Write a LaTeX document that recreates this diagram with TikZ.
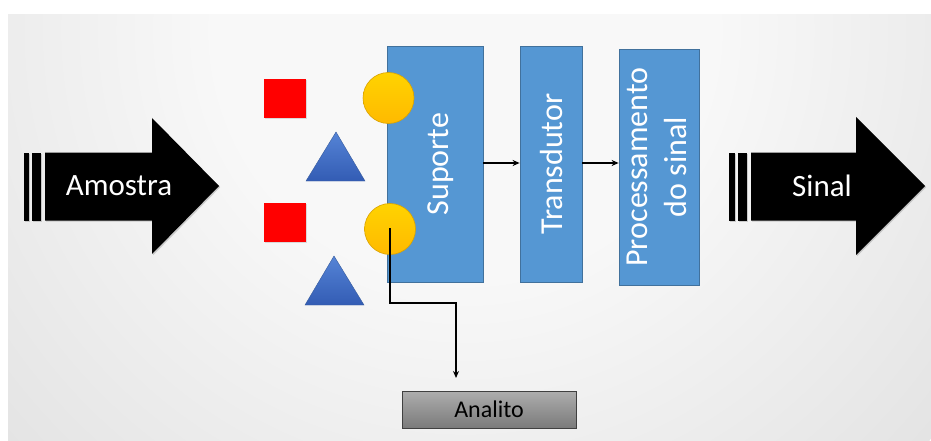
\documentclass[tikz,border=0pt]{standalone}
\usepackage{fontspec}
\usepackage{graphicx}
\setmainfont{Carlito}
\usetikzlibrary{arrows.meta,shadows}

\definecolor{bgcenter}{HTML}{F8F8F8}
\definecolor{bgedge}{HTML}{C2C2C2}
\definecolor{blockblue}{HTML}{5597D3}
\definecolor{blockedge}{HTML}{41719C}
\definecolor{gold}{HTML}{FFC000}
\definecolor{goldedge}{HTML}{D9A200}
\definecolor{triblue}{HTML}{4472C4}
\definecolor{trilight}{HTML}{5584D6}
\definecolor{trideep}{HTML}{335CB4}

\pgfdeclareradialshading{bgglow}{\pgfpoint{0bp}{0bp}}{%
  color(0bp)=(bgcenter); color(10bp)=(bgcenter); color(50bp)=(bgedge)}

\tikzset{
  bigarrow/.style={fill=black, drop shadow={shadow xshift=1.2pt, shadow yshift=-1.2pt, opacity=0.35}},
  arrowtext/.style={text=white, font=\fontsize{31}{38}\selectfont, inner sep=0pt},
  stage/.style={draw=blockedge, line width=0.8pt, fill=blockblue, text=white,
    font=\fontsize{32}{39}\selectfont, inner sep=0pt, align=center},
  molsquare/.style={fill=red, minimum width=42pt, minimum height=39pt, inner sep=0pt,
    drop shadow={shadow xshift=1pt, shadow yshift=-1pt, opacity=0.25}},
  bead/.style={circle, draw=goldedge, line width=0.6pt, top color=gold!70!yellow, bottom color=gold!90!orange,
    minimum size=51pt, inner sep=0pt},
  molshape/.style={draw=triblue!80!black, line width=0.4pt, top color=trilight, bottom color=trideep},
  flow/.style={line width=1.5pt, -{Stealth[length=7pt,width=6pt]}},
  resultbox/.style={draw=black!75, line width=1pt, top color=black!32, bottom color=black!52,
    minimum width=174pt, minimum height=37pt, inner sep=0pt, font=\fontsize{24}{29}\selectfont}
}

\begin{document}
\begin{tikzpicture}[x=1pt, y=-1pt]
  \useasboundingbox (0,0) rectangle (931,441);

  % background panel with a soft radial glow
  \begin{scope}
    \clip (8,15) rectangle (931,441);
    \shade[shading=bgglow] (465,30) circle (620);
  \end{scope}

  % input arrow
  \fill[bigarrow] (23.5,152.5) rectangle (29,220.5);
  \fill[bigarrow] (32,152.5) rectangle (41,220.5);
  \fill[bigarrow] (45,152.5) -- (152,152.5) -- (152,118) -- (219,186)
    -- (152,254) -- (152,220.5) -- (45,220.5) -- cycle;
  \node[arrowtext] (amostra) at (119,186) {Amostra};

  % output arrow
  \fill[bigarrow] (728.5,152.5) rectangle (734.5,220.5);
  \fill[bigarrow] (737.5,152.5) rectangle (746.5,220.5);
  \fill[bigarrow] (751,152.5) -- (856,152.5) -- (856,117) -- (925,186)
    -- (856,255) -- (856,220.5) -- (751,220.5) -- cycle;
  \node[arrowtext] (sinal) at (822,186) {Sinal};

  % processing stages
  \node[stage, minimum width=96pt, minimum height=236pt] (sup) at (435,164)
    {\rotatebox{90}{\raisebox{-6pt}[\height][\depth]{Suporte}}};
  \node[stage, minimum width=62pt, minimum height=236pt] (tra) at (551,164)
    {\rotatebox{90}{Transdutor}};
  \node[stage, minimum width=80pt, minimum height=236pt] (proc) at (659,167)
    {\rotatebox{90}{\begin{tabular}{@{}c@{}}Processamento\\do sinal\end{tabular}}};

  % sample species
  \node[molsquare] (sq1) at (285,98.5) {};
  \node[molsquare] (sq2) at (285,222.5) {};
  \path[molshape] (306,181) -- (336,132) -- (365,181) -- cycle;
  \path[molshape] (305,305) -- (334,256) -- (364,305) -- cycle;

  % recognition sites on the support
  \node[bead] (b1) at (388.5,98) {};
  \node[bead] (b2) at (390,229) {};

  % signal chain
  \draw[flow] (sup.east |- 0,163) -- (tra.west |- 0,163);
  \draw[flow] (tra.east |- 0,163) -- (proc.west |- 0,163);

  % captured analyte
  \node[resultbox] (analito) at (489,409.5) {Analito};
  \coordinate (elbow) at (456,303);
  \coordinate (analitotip) at (456,378);
  \draw[flow, line cap=rect] (b2.center) |- (elbow) -- (analitotip);
\end{tikzpicture}
\end{document}
